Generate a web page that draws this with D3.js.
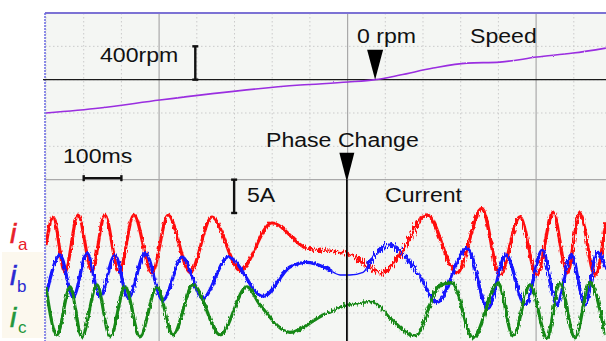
<!DOCTYPE html>
<html>
<head>
<meta charset="utf-8">
<script src="https://cdn.jsdelivr.net/npm/d3@7/dist/d3.min.js"></script>
<style>
  body { margin: 0; background: #fff; }
  svg { display: block; font-family: "Liberation Sans", Arial, sans-serif; }
</style>
</head>
<body>
<svg width="606" height="341"></svg>
<script>
// speed trace: time (ms), speed (rpm)
const speedT = [0, 143, 302, 674, 801, 873, 939, 1027, 1117, 1204, 1302, 1398, 1485];
const speedV = [-401, -341, -245, -65, -29, 0, 55, 139, 199, 211, 271, 319, 379];

// phase currents: time (ms), current (A) around each channel's own baseline
const iaT = [0, 19, 50, 85, 122, 156, 194, 233, 281, 324, 382, 440, 515, 599, 692, 780, 806, 851, 889, 939, 1011, 1090, 1156, 1204, 1257, 1302, 1345, 1382, 1416, 1456, 1485];
const iaV = [0.2, 4.4, -3.9, 4.7, -3.7, 4.7, -3.9, 4.7, -4.0, 4.7, -3.9, 4.4, -3.6, 3.5, -0.3, -0.9, -1.3, -2.8, -4.0, -1.3, 4.7, -4.0, 5.7, -4.3, 4.4, -4.3, 5.1, -4.0, 5.0, -4.3, 3.6];

const ibT = [0, 37, 72, 109, 143, 183, 218, 263, 310, 361, 416, 483, 576, 647, 692, 745, 780, 806, 841, 865, 912, 958, 992, 1037, 1117, 1172, 1220, 1271, 1316, 1355, 1393, 1430, 1462, 1485];
const ibV = [-2.5, 3.7, -2.6, 4.0, -2.6, 3.7, -2.8, 4.0, -3.1, 3.4, -2.8, 3.4, -2.5, 1.9, 2.6, 1.7, 0.7, 0.7, 1.1, 3.2, 5.2, 3.2, 0.5, -3.4, 4.7, -4.3, 3.7, -3.8, 4.4, -3.8, 3.7, -3.8, 4.1, 1.7];

const icT = [0, 29, 64, 95, 135, 170, 210, 249, 294, 337, 390, 462, 533, 568, 647, 735, 798, 867, 912, 979, 1045, 1077, 1133, 1199, 1239, 1284, 1329, 1363, 1403, 1443, 1483];
const icV = [3.75, -3.3, 3.9, -3.6, 4.2, -3.6, 3.9, -3.6, 3.9, -3.3, 4.2, -3.3, 3.9, 1.2, -2.9, -0.3, 1.2, 1.65, -0.75, -3.45, 4.2, 4.5, -3.75, 4.5, -3.45, 4.2, -3.75, 4.5, -3.75, 4.5, -3.3];

// events (ms)
const phaseChangeT = 798;
const zeroSpeedT = 873;

const svg = d3.select('svg');
const width = 606;
const height = 341;
const plot = { left: 45, top: 13 };

// 100 ms per horizontal division, 10 vertical divisions
const x = d3.scaleLinear().domain([0, 1500]).range([46, 611.5]);
const yDiv = d3.scaleLinear().domain([0, 10]).range([13, 346.3]);
// speed: 0 rpm on division 2, 400 rpm per division
const ySpeed = d3.scaleLinear().domain([-400, 400]).range([yDiv(3), yDiv(1)]);
// current: 5 A per division, ia baseline on division 7
const yCur = d3.scaleLinear().domain([5, -10]).range([yDiv(6), yDiv(9)]);

const defs = svg.append('defs');
defs.append('clipPath').attr('id', 'plotClip')
	.append('rect')
	.attr('x', plot.left).attr('y', plot.top)
	.attr('width', width - plot.left).attr('height', height - plot.top);

// noisy look of scope traces
const noiseFilter = (scale, seed) => {
	const id = `noise${scale}_${seed}`;
	if (!defs.select('#' + id).empty()) return id;
	const f = defs.append('filter').attr('id', id)
		.attr('filterUnits', 'userSpaceOnUse')
		.attr('x', 0).attr('y', 0).attr('width', width).attr('height', height);
	f.append('feTurbulence').attr('type', 'fractalNoise')
		.attr('baseFrequency', '0.9 0.2').attr('numOctaves', 1)
		.attr('seed', seed).attr('result', 't');
	f.append('feDisplacementMap').attr('in', 'SourceGraphic').attr('in2', 't')
		.attr('scale', scale).attr('xChannelSelector', 'R').attr('yChannelSelector', 'G');
	return id;
};

// background
svg.append('rect').attr('width', width).attr('height', height).attr('fill', '#fff');
svg.append('rect')
	.attr('x', plot.left).attr('y', plot.top)
	.attr('width', width - plot.left).attr('height', height - plot.top)
	.attr('fill', '#f4f6f3');

// grid
const grid = svg.append('g');
d3.range(0, 16).forEach((i) => {
	const major = (i * 100 - 300) % 500 === 0;
	grid.append('line')
		.attr('x1', x(i * 100)).attr('x2', x(i * 100))
		.attr('y1', plot.top).attr('y2', height)
		.attr('stroke', major ? '#a9a9a9' : '#cbcbcb')
		.attr('stroke-width', major ? 1.2 : 1)
		.attr('stroke-dasharray', major ? null : '1.5,2.5');
});
d3.range(1, 11).forEach((j) => {
	const major = j % 5 === 0;
	grid.append('line')
		.attr('x1', plot.left).attr('x2', width)
		.attr('y1', yDiv(j)).attr('y2', yDiv(j))
		.attr('stroke', major ? '#a9a9a9' : '#cbcbcb')
		.attr('stroke-width', major ? 1.2 : 1)
		.attr('stroke-dasharray', major ? null : '1.5,2.5');
});

// borders
svg.append('line')
	.attr('x1', plot.left).attr('x2', width).attr('y1', plot.top).attr('y2', plot.top)
	.attr('stroke', '#7c72d4').attr('stroke-width', 2);
svg.append('line')
	.attr('x1', plot.left).attr('x2', plot.left).attr('y1', plot.top).attr('y2', height)
	.attr('stroke', '#6a6ae2').attr('stroke-width', 1.5).attr('stroke-dasharray', '2,1');

// speed zero line
svg.append('line')
	.attr('x1', plot.left - 2).attr('x2', width)
	.attr('y1', ySpeed(0)).attr('y2', ySpeed(0))
	.attr('stroke', '#1a1a1a').attr('stroke-width', 1.2);

const traces = svg.append('g').attr('clip-path', 'url(#plotClip)');

// speed trace
const speedData = speedT.map((t, i) => ({ t, v: speedV[i] }));
traces.append('path')
	.datum(speedData)
	.attr('fill', 'none')
	.attr('stroke', '#9a2de0')
	.attr('stroke-width', 1.6)
	.attr('filter', `url(#${noiseFilter(2, 7)})`)
	.attr('d', d3.line().x((d) => x(d.t)).y((d) => ySpeed(d.v)).curve(d3.curveMonotoneX));

// current traces: [from ms, to ms, stroke width, noise]
const channels = [
	{ T: iaT, V: iaV, offset: 0, color: '#ff1010', seed: 2,
		segs: [[0, 690, 3.2, 4], [690, 800, 2.6, 9], [800, 990, 3.4, 12], [990, 1500, 3.3, 5]] },
	{ T: ibT, V: ibV, offset: -5, color: '#1212ff', seed: 5,
		segs: [[0, 760, 3.2, 4], [760, 850, 1.4, 2], [850, 990, 3.4, 11], [990, 1500, 3.3, 5]] },
	{ T: icT, V: icV, offset: -10, color: '#168816', seed: 9,
		segs: [[0, 740, 3.2, 4], [740, 900, 2.4, 8], [900, 1500, 3.3, 5]] },
];

channels.forEach((ch, ci) => {
	const data = ch.T.map((t, i) => ({ t, v: ch.V[i] + ch.offset }));
	const line = d3.line().x((d) => x(d.t)).y((d) => yCur(d.v)).curve(d3.curveMonotoneX);
	ch.segs.forEach(([t0, t1, w, n], si) => {
		const cid = `seg${ci}_${si}`;
		defs.append('clipPath').attr('id', cid)
			.append('rect')
			.attr('x', x(t0)).attr('y', 0)
			.attr('width', x(t1) - x(t0)).attr('height', height);
		traces.append('g').attr('clip-path', `url(#${cid})`)
			.append('path')
			.datum(data)
			.attr('fill', 'none')
			.attr('stroke', ch.color)
			.attr('stroke-width', w)
			.attr('filter', `url(#${noiseFilter(n, ch.seed)})`)
			.attr('d', line);
	});
});

// markers
const marks = svg.append('g').attr('fill', '#000');
const arrow = (cx, tipY, h, hw) =>
	`M${cx - hw},${tipY - h}L${cx + hw},${tipY - h}L${cx},${tipY}Z`;
marks.append('path').attr('d', arrow(x(zeroSpeedT), ySpeed(0), 30, 8));
marks.append('path').attr('d', arrow(x(phaseChangeT), yDiv(5) + 2, 29, 7.5));
marks.append('line')
	.attr('x1', x(phaseChangeT)).attr('x2', x(phaseChangeT))
	.attr('y1', yDiv(5)).attr('y2', height)
	.attr('stroke', '#000').attr('stroke-width', 1.6);

// scale bars
const bars = svg.append('g').attr('stroke', '#111').attr('stroke-width', 2.4);
const vBar = (bx, y1, y2) => {
	bars.append('line').attr('x1', bx).attr('x2', bx).attr('y1', y1).attr('y2', y2);
	bars.append('line').attr('x1', bx - 3).attr('x2', bx + 3).attr('y1', y1).attr('y2', y1);
	bars.append('line').attr('x1', bx - 3).attr('x2', bx + 3).attr('y1', y2).attr('y2', y2);
};
vBar(x(396), ySpeed(400), ySpeed(0));
vBar(x(499), yDiv(5), yDiv(6));
const by = yDiv(5) - 1.5;
bars.append('line').attr('x1', x(100)).attr('x2', x(200)).attr('y1', by).attr('y2', by);
bars.append('line').attr('x1', x(100)).attr('x2', x(100)).attr('y1', by - 3).attr('y2', by + 3);
bars.append('line').attr('x1', x(200)).attr('x2', x(200)).attr('y1', by - 3).attr('y2', by + 3);

// annotations
const notes = [
	{ text: '400rpm', x: 100, y: 62 },
	{ text: '0 rpm', x: 357, y: 43 },
	{ text: 'Speed', x: 470, y: 43 },
	{ text: 'Phase Change', x: 266, y: 147 },
	{ text: '100ms', x: 63, y: 163 },
	{ text: '5A', x: 247, y: 202 },
	{ text: 'Current', x: 385, y: 202 },
];
svg.append('g').selectAll('text')
	.data(notes)
	.join('text')
	.attr('transform', (d) => `translate(${d.x},${d.y}) scale(1.1,1)`)
	.attr('font-size', 21)
	.attr('fill', '#111')
	.text((d) => d.text);

// channel labels
svg.append('rect').attr('x', 2).attr('y', 252).attr('width', 42).attr('height', 86).attr('fill', '#fcf8ee');
const labels = [
	{ sub: 'a', color: '#e8202a', y: 243, sy: 250, sx: 18 },
	{ sub: 'b', color: '#2a2ad2', y: 285, sy: 292, sx: 17 },
	{ sub: 'c', color: '#23963c', y: 327, sy: 333, sx: 18 },
];
const lab = svg.append('g');
labels.forEach((d) => {
	lab.append('text')
		.attr('x', 10).attr('y', d.y)
		.attr('font-size', 28).attr('font-style', 'italic')
		.attr('stroke', d.color).attr('stroke-width', 0.6)
		.attr('fill', d.color).text('i');
	lab.append('text')
		.attr('x', d.sx).attr('y', d.sy)
		.attr('font-size', 17)
		.attr('fill', d.color).text(d.sub);
});
</script>
</body>
</html>
